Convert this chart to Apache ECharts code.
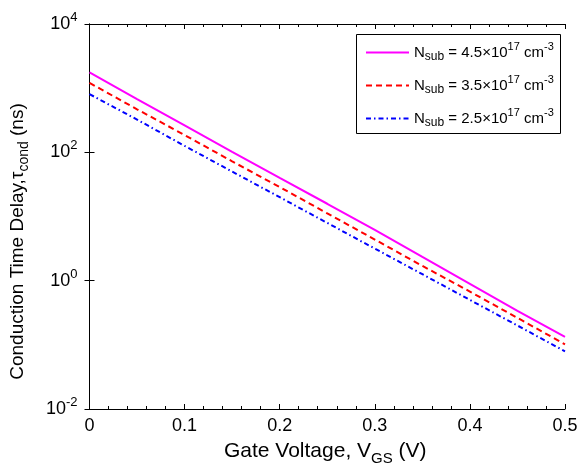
<!DOCTYPE html>
<html>
<head>
<meta charset="utf-8">
<script src="https://cdn.jsdelivr.net/npm/echarts@6/dist/echarts.min.js"></script>
<style>
  html, body { margin: 0; padding: 0; background: #fff; }
  #chart { width: 581px; height: 471px; }
</style>
</head>
<body>
<div id="chart"></div>
<script>
// Gate voltage samples (V)
const vgs = [0, 0.05, 0.1, 0.15, 0.2, 0.25, 0.3, 0.35, 0.4, 0.45, 0.5];
// Conduction time delay (ns) for each substrate doping
const tau45 = [1766, 676, 263, 102, 40.0, 15.8, 6.17, 2.34, 0.891, 0.339, 0.133];
const tau35 = [1210, 468, 186, 72.4, 28.8, 11.2, 4.37, 1.70, 0.676, 0.263, 0.102];
const tau25 = [807, 324, 126, 50.1, 20.0, 7.94, 3.16, 1.26, 0.501, 0.200, 0.079];
const seriesNames = ['4.5', '3.5', '2.5'];
const xTicks = [0, 0.1, 0.2, 0.3, 0.4, 0.5];
const yTickExponents = [-2, 0, 2, 4];

const FONT = 'Liberation Sans';
const pairs = ys => vgs.map((v, i) => [v, ys[i]]);

const chart = echarts.init(document.getElementById('chart'), null, { renderer: 'canvas' });

const legendRich = {
  n: { fontFamily: FONT, fontSize: 15, color: '#000' },
  sub: { fontFamily: FONT, fontSize: 12, color: '#000', verticalAlign: 'top', padding: [10, 0, 0, 0] },
  sup: { fontFamily: FONT, fontSize: 11, color: '#000', verticalAlign: 'bottom', padding: [0, 0, 12, 0] }
};

const axisLine = { show: true, lineStyle: { color: '#000', width: 1 } };
const subStyle = size => ({ fontFamily: FONT, fontSize: size, color: '#000', verticalAlign: 'top', padding: [14, 0, 0, 0] });

chart.setOption({
  animation: false,
  backgroundColor: '#fff',
  grid: { left: 87, right: 16, top: 24, bottom: 59, containLabel: false },
  graphic: [{
    type: 'rect', left: 354, top: 32, z: 100,
    shape: { width: 204, height: 99 },
    style: { fill: 'none', stroke: '#000', lineWidth: 1 }
  }],
  legend: {
    orient: 'vertical', left: 360, top: 36, z: 101,
    itemWidth: 43, itemHeight: 14, itemGap: 11,
    itemStyle: { opacity: 0, color: 'transparent', borderColor: 'transparent' },
    textStyle: { fontFamily: FONT, fontSize: 15, color: '#000', rich: legendRich },
    formatter: name => '{n|N}{sub|sub}{n| = ' + name + '\u00d710}{sup|17}{n| cm}{sup|-3}',
    data: seriesNames
  },
  xAxis: [{
    type: 'value', min: 0, max: 0.5, interval: 0.1, position: 'bottom',
    name: 'Gate Voltage, V{sub|GS} (V)', nameLocation: 'middle', nameGap: 28,
    nameTextStyle: { fontFamily: FONT, fontSize: 21, color: '#000', padding: [0, 4, 0, 0], rich: { sub: subStyle(15) } },
    axisLine: axisLine,
    axisTick: { show: true, inside: true, length: 5, lineStyle: { color: '#000' } },
    minorTick: { show: true, splitNumber: 5, length: 3, lineStyle: { color: '#000' } },
    splitLine: { show: false },
    axisLabel: {
      fontFamily: FONT, fontSize: 18, color: '#000', margin: 8,
      formatter: v => (xTicks.some(t => Math.abs(t - v) < 1e-9) ? String(+v.toFixed(1)) : '')
    }
  }, {
    type: 'value', min: 0, max: 0.5, interval: 0.1, position: 'top',
    axisLine: axisLine,
    axisTick: { show: true, inside: true, length: 5, lineStyle: { color: '#000' } },
    minorTick: { show: true, splitNumber: 5, length: 3, lineStyle: { color: '#000' } },
    splitLine: { show: false }, axisLabel: { show: false }
  }],
  yAxis: [{
    type: 'log', logBase: 10, min: 0.01, max: 10000, interval: 2, position: 'left',
    name: 'Conduction Time Delay,\u03c4{sub|cond} (ns)', nameLocation: 'middle', nameGap: 58,
    nameRotate: 90,
    nameTextStyle: {
      fontFamily: FONT, fontSize: 19, color: '#000', padding: [0, 50, 0, 0],
      rich: { sub: subStyle(14) }
    },
    axisLine: axisLine,
    axisTick: { show: true, inside: true, length: 5, lineStyle: { color: '#000' } },
    splitLine: { show: false },
    axisLabel: {
      color: '#000', margin: 12,
      formatter: v => {
        const e = Math.round(Math.log10(v));
        return yTickExponents.includes(e) ? '{b|10}{s|' + e + '}' : '';
      },
      rich: {
        b: { fontFamily: FONT, fontSize: 18, color: '#000' },
        s: { fontFamily: FONT, fontSize: 13, color: '#000', verticalAlign: 'bottom', padding: [0, 0, 13, 0] }
      }
    }
  }, {
    type: 'log', logBase: 10, min: 0.01, max: 10000, interval: 2, position: 'right',
    axisLine: axisLine,
    axisTick: { show: true, inside: true, length: 5, lineStyle: { color: '#000' } },
    splitLine: { show: false }, axisLabel: { show: false }
  }],
  series: [{
    name: seriesNames[0], type: 'line', data: pairs(tau45), symbol: 'none',
    lineStyle: { color: '#ff00ff', width: 2, type: 'solid' }, itemStyle: { color: '#ff00ff' }
  }, {
    name: seriesNames[1], type: 'line', data: pairs(tau35), symbol: 'none',
    lineStyle: { color: '#ff0000', width: 2, type: [6, 4] }, itemStyle: { color: '#ff0000' }
  }, {
    name: seriesNames[2], type: 'line', data: pairs(tau25), symbol: 'none',
    lineStyle: { color: '#0000ff', width: 2, type: [5, 3, 1.5, 3] }, itemStyle: { color: '#0000ff' }
  }]
});
</script>
</body>
</html>
